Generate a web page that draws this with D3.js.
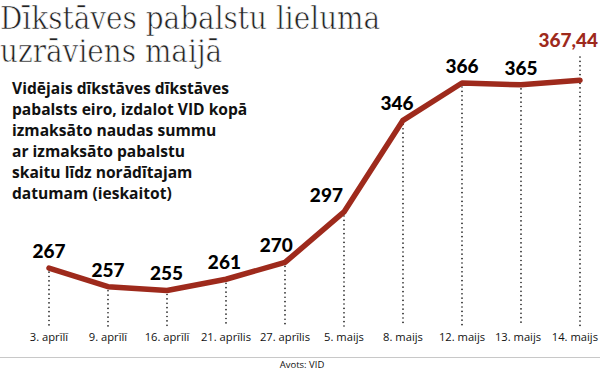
<!DOCTYPE html>
<html>
<head>
<meta charset="utf-8">
<script src="https://cdn.jsdelivr.net/npm/d3@7"></script>
<style>
  html, body { margin: 0; padding: 0; background: #fff; }
  svg { display: block; }
</style>
</head>
<body>
<svg id="chart" width="600" height="378"></svg>
<script>
const dates = ['3. aprīlī', '9. aprīlī', '16. aprīlī', '21. aprīlis', '27. aprīlis',
  '5. maijs', '8. maijs', '12. maijs', '13. maijs', '14. maijs'];
const values = [267, 257, 255, 261, 270, 297, 346, 366, 365, 367.44];
const valueLabels = ['267', '257', '255', '261', '270', '297', '346', '366', '365', '367,44'];
const titleLines = ['Dīkstāves pabalstu lieluma', 'uzrāviens maijā'];
const noteLines = [
  'Vidējais dīkstāves dīkstāves',
  'pabalsts eiro, izdalot VID kopā',
  'izmaksāto naudas summu',
  'ar izmaksāto pabalstu',
  'skaitu līdz norādītajam',
  'datumam (ieskaitot)'
];
const source = 'Avots: VID';

const RED = '#9e2a1c';
const W = 600, H = 378;
const svg = d3.select('#chart');

const x = d3.scalePoint().domain(dates).range([49, 580]);
const y = d3.scaleLinear().domain([240, 380]).range([318.5, 56.8]);
const axisY = 326;

const data = dates.map((d, i) => ({ date: d, value: values[i], label: valueLabels[i] }));
const last = data.length - 1;

// title (condensed serif, sized so first line spans ~386px)
const title = svg.append('text')
  .attr('font-family', '"DejaVu Serif Condensed", "DejaVu Serif", serif')
  .attr('font-stretch', 'condensed')
  .attr('font-size', 28)
  .attr('fill', '#222')
  .attr('stroke', '#fff')
  .attr('stroke-width', 0.6)
  .attr('paint-order', 'fill');
title.selectAll('tspan')
  .data(titleLines)
  .join('tspan')
  .attr('x', 0)
  .attr('y', (d, i) => 29 + i * 33)
  .text((d) => d);
const firstW = title.select('tspan').node().getComputedTextLength();
title.attr('font-size', Math.min(31, 28 * 386 / firstW));

// explanation
svg.append('text')
  .attr('font-family', '"Open Sans", sans-serif')
  .attr('font-weight', 700)
  .attr('font-size', 15.6)
  .attr('fill', '#111')
  .selectAll('tspan')
  .data(noteLines)
  .join('tspan')
  .attr('x', 12)
  .attr('y', (d, i) => 94 + i * 21)
  .text((d) => d);

// dotted drop lines
svg.append('g')
  .selectAll('line')
  .data(data)
  .join('line')
  .attr('x1', (d) => x(d.date))
  .attr('x2', (d) => x(d.date))
  .attr('y1', (d, i) => (i === last ? 57 : y(d.value) + 4))
  .attr('y2', axisY)
  .attr('stroke', '#111')
  .attr('stroke-width', 1.6)
  .attr('stroke-linecap', 'round')
  .attr('stroke-dasharray', '0.1,4.3');

// line
svg.append('path')
  .datum(data)
  .attr('fill', 'none')
  .attr('stroke', RED)
  .attr('stroke-width', 5.5)
  .attr('stroke-linecap', 'round')
  .attr('stroke-linejoin', 'round')
  .attr('d', d3.line().x((d) => x(d.date)).y((d) => y(d.value)));

// value labels: nudged left where the line climbs steeply afterwards
svg.append('g')
  .selectAll('text')
  .data(data)
  .join('text')
  .attr('x', (d, i) => {
    if (i === last) return W - 2;
    const rise = data[i + 1].value - d.value;
    return x(d.date) - Math.max(0, rise - 5) * 0.4;
  })
  .attr('y', (d, i) => (i === last ? 47 : y(d.value) - 10))
  .attr('text-anchor', (d, i) => (i === last ? 'end' : 'middle'))
  .attr('font-family', 'Lato, sans-serif')
  .attr('font-weight', 900)
  .attr('font-size', 19)
  .attr('fill', (d, i) => (i === last ? RED : '#000'))
  .text((d) => d.label);

// date labels
svg.append('g')
  .selectAll('text')
  .data(data)
  .join('text')
  .attr('x', (d, i) => (i === last ? W - 2 : x(d.date) - (i === last - 1 ? 3 : 0)))
  .attr('y', 341)
  .attr('text-anchor', (d, i) => (i === last ? 'end' : 'middle'))
  .attr('font-family', '"Open Sans", sans-serif')
  .attr('font-size', 11.2)
  .attr('fill', '#111')
  .text((d) => d.date);

// footer
svg.append('line')
  .attr('x1', 0).attr('x2', W)
  .attr('y1', 357.5).attr('y2', 357.5)
  .attr('stroke', '#c8c8c8')
  .attr('stroke-width', 1.2);

svg.append('text')
  .attr('x', 302)
  .attr('y', 368)
  .attr('text-anchor', 'middle')
  .attr('font-family', '"Open Sans", sans-serif')
  .attr('font-size', 9.5)
  .attr('fill', '#111')
  .text(source);
</script>
</body>
</html>
